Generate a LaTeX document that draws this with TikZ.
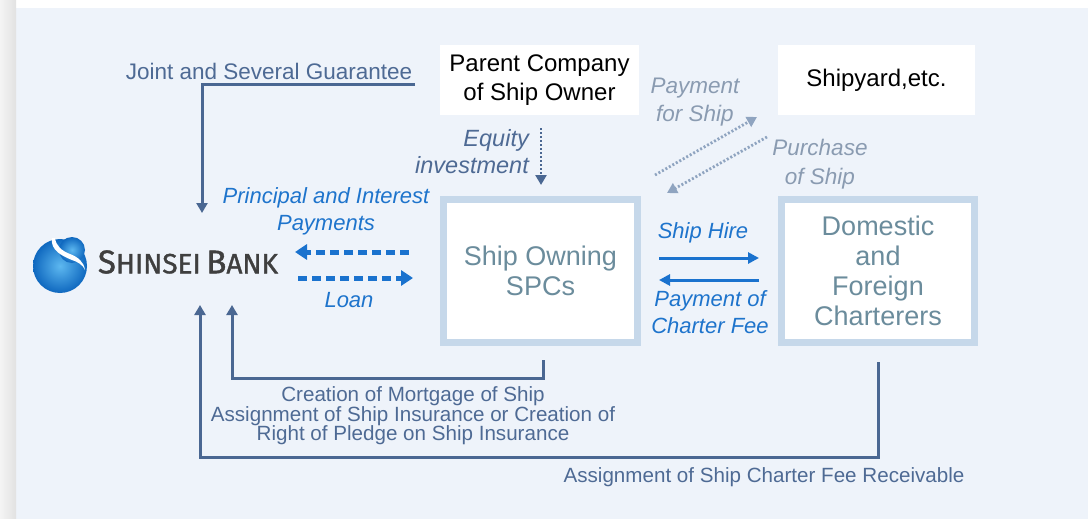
\documentclass[tikz,border=0pt]{standalone}
\usepackage{fontspec}
\setmainfont{Liberation Sans}
\newfontfamily\logofont[FakeBold=1.2]{Fira Sans}
\usetikzlibrary{arrows.meta}
\definecolor{bgblue}{HTML}{EEF3FA}
\definecolor{stripL}{HTML}{F4F4F4}
\definecolor{stripR}{HTML}{E2E2E2}
\definecolor{connblue}{HTML}{4A6792}
\definecolor{labblue}{HTML}{4E6A94}
\definecolor{itblue}{HTML}{1E74CC}
\definecolor{dashblue}{HTML}{1A72CE}
\definecolor{boxborder}{HTML}{C6D8EA}
\definecolor{boxtext}{HTML}{6B8C9C}
\definecolor{dotgray}{HTML}{8FA4C0}
\definecolor{itgray}{HTML}{8A9BB1}
\definecolor{logoA}{HTML}{5DB8F0}
\definecolor{logoB}{HTML}{0F68BF}
\definecolor{logotext}{HTML}{3F3F3F}
\begin{document}
\begin{tikzpicture}[x=1pt,y=-1pt,
  wbox/.style={fill=white,draw=none,inner sep=0pt,align=center,text=black,
    font=\fontsize{24}{29}\selectfont},
  sbox/.style={draw=boxborder,line width=7pt,fill=white,inner sep=0pt,align=center,
    text=boxtext,minimum width=194pt,minimum height=143pt,font=\fontsize{27}{30}\selectfont},
  lab/.style={inner sep=0pt,align=center,text=labblue,font=\fontsize{20.6}{19.5}\selectfont},
  itlab/.style={inner sep=0pt,align=center,text=itblue,font=\fontsize{22}{27}\selectfont\itshape},
  graylab/.style={inner sep=0pt,align=center,text=itgray,font=\fontsize{22.5}{28.5}\selectfont\itshape},
  conn/.style={draw=connblue,line width=3pt},
  conntip/.style={-{Triangle[width=11pt,length=10pt]}},
  bigdash/.style={draw=dashblue,line width=5pt,dash pattern=on 9pt off 5pt,
    -{Triangle[width=15pt,length=12pt]}},
  hirearrow/.style={draw=dashblue,line width=3pt,-{Triangle[width=11pt,length=11pt]}},
  dotarrow/.style={draw=dotgray,line width=2.8pt,dash pattern=on 2pt off 2pt,
    -{Triangle[width=11pt,length=10pt]}},
  eqarrow/.style={draw=connblue,line width=2.8pt,dash pattern=on 2pt off 2pt,
    -{Triangle[width=11pt,length=10pt]}}
]
\useasboundingbox (0,0) rectangle (1088,519);
\fill[white] (0,0) rectangle (1088,519);
\fill[bgblue] (16,8) rectangle (1088,519);
\shade[left color=stripL,right color=stripR] (0,0) rectangle (16,519);

% logo
\shade[inner color=logoA,outer color=logoB] (60,266) circle[radius=27];
\shade[inner color=logoA,outer color=logoB] (72,250) circle[radius=13];
\fill[white] (52,238) .. controls (50,250) and (62,256) .. (72,260)
  .. controls (78,262) and (83,265) .. (85,270)
  .. controls (84,262) and (78,257) .. (70,254)
  .. controls (62,251) and (56,246) .. (55,238) -- cycle;
\node[inner sep=0pt,text=logotext] (bank) at (188,262)
  {\logofont\fontsize{33}{33}\selectfont S{\fontsize{28}{28}\selectfont HINSEI}\,B{\fontsize{28}{28}\selectfont ANK}};

% boxes
\node[wbox,minimum width=199pt,minimum height=70pt] (parent) at (539.5,80) {Parent Company\\of Ship Owner};
\node[wbox,minimum width=197pt,minimum height=70pt] (shipyard) at (876.5,80) {Shipyard,etc.};
\node[sbox] (spc) at (540.5,271) {Ship Owning\\SPCs};
\node[sbox,minimum width=193pt] (charter) at (878,271) {Domestic\\and\\Foreign\\Charterers};

% labels
\node[lab,font=\fontsize{22.5}{26}\selectfont] (guar) at (269,71) {Joint and Several Guarantee};
\node[inner sep=0pt,align=right,anchor=east,text=labblue,font=\fontsize{23.5}{27}\selectfont\itshape]
  (equity) at (529,151.5) {Equity\\investment};
\node[graylab] (pfs) at (695,102) {Payment\\for Ship};
\node[graylab] (pos) at (820,164) {Purchase\\of Ship};
\node[itlab] (pip) at (326,211.5) {Principal and Interest\\Payments};
\node[itlab] (loan) at (349,300) {Loan};
\node[itlab] (hire) at (703,233) {Ship Hire};
\node[itlab] (pcf) at (710,312.5) {Payment of\\Charter Fee};
\node[lab] (mortgage) at (413,416) {Creation of Mortgage of Ship\\Assignment of Ship Insurance or Creation of\\Right of Pledge on Ship Insurance};
\node[lab] (assign) at (764,477) {Assignment of Ship Charter Fee Receivable};

% coordinates for connectors
\coordinate (g0) at (415,85);
\coordinate (bankTopA) at (202,213);
\coordinate (m0) at (543,360);
\coordinate (m1) at (232,378);
\coordinate (bankBotB) at (232,305);
\coordinate (a0) at (878,362);
\coordinate (a1) at (200,457);
\coordinate (bankBotA) at (200,305);
\coordinate (pl0) at (409,252);
\coordinate (pl1) at (295,252);
\coordinate (ln0) at (298,278);
\coordinate (ln1) at (413,278);
\coordinate (sh0) at (659,258);
\coordinate (sh1) at (759,258);
\coordinate (cf0) at (759,280);
\coordinate (cf1) at (659,280);
\coordinate (ps0) at (655,175);
\coordinate (ps1) at (757,117);
\coordinate (pu0) at (767,137);
\coordinate (pu1) at (667,193);
\coordinate (eq0) at (541,128);
\coordinate (eq1) at (541,185);

% connectors
\draw[conn,conntip] (g0) -| (bankTopA);
\draw[conn,conntip] (m0) |- (m1) -- (bankBotB);
\draw[conn,conntip] (a0) |- (a1) -- (bankBotA);
\draw[bigdash] (pl0) -- (pl1);
\draw[bigdash] (ln0) -- (ln1);
\draw[hirearrow] (sh0) -- (sh1);
\draw[hirearrow] (cf0) -- (cf1);
\draw[dotarrow] (ps0) -- (ps1);
\draw[dotarrow] (pu0) -- (pu1);
\draw[eqarrow] (eq0) -- (eq1);
\end{tikzpicture}
\end{document}
